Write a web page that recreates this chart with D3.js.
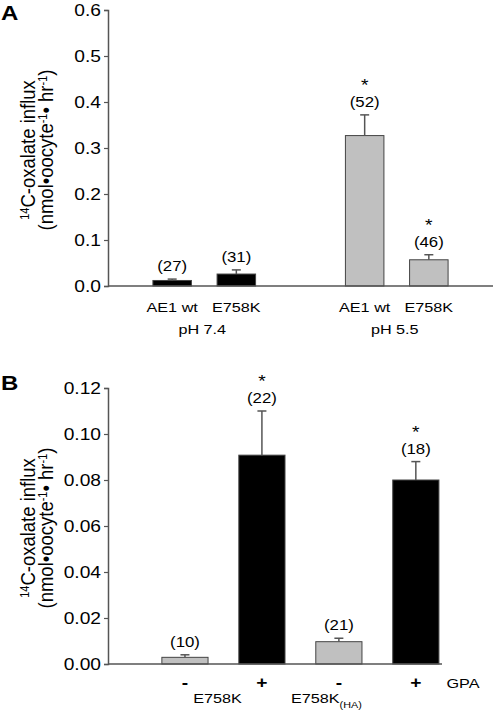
<!DOCTYPE html>
<html>
<head>
<meta charset="utf-8">
<script src="https://cdn.jsdelivr.net/npm/d3@7"></script>
<style>
  html, body { margin: 0; padding: 0; background: #fff; }
  svg { display: block; }
  text { font-family: "Liberation Sans", Arial, sans-serif; fill: #000; }
</style>
</head>
<body>
<script>
// ---------- Panel A data ----------
const aGroups = ["pH 7.4", "pH 5.5"];
const aCategories = ["AE1 wt", "E758K", "AE1 wt", "E758K"];
const aGroupOf = [0, 0, 1, 1];
const aValues = [0.012, 0.026, 0.327, 0.057];
const aErrors = [0.003, 0.009, 0.045, 0.011];
const aN = ["(27)", "(31)", "(52)", "(46)"];
const aSig = [false, false, true, true];
const aTicks = [0.0, 0.1, 0.2, 0.3, 0.4, 0.5, 0.6];

// ---------- Panel B data ----------
const bGroups = ["E758K", "E758K"];
const bGroupSub = ["", "(HA)"];
const bCategories = ["-", "+", "-", "+"];
const bGroupOf = [0, 0, 1, 1];
const bValues = [0.0029, 0.0908, 0.0097, 0.0800];
const bErrors = [0.0011, 0.0192, 0.0015, 0.0080];
const bN = ["(10)", "(22)", "(21)", "(18)"];
const bSig = [false, true, false, true];
const bTicks = [0.00, 0.02, 0.04, 0.06, 0.08, 0.10, 0.12];
const bExtraLabel = "GPA";

const W = 494, H = 716;
const SX = 1.2; // horizontal stretch of the original image text
const GRAY = "#c0c0c0", BLACK = "#000000", LINE = "#555555";

const svg = d3.select("body").append("svg").attr("width", W).attr("height", H);

function stext(g, x, y, str, size, anchor, weight) {
  const t = g.append("text")
    .attr("transform", `translate(${x},${y}) scale(${SX},1)`)
    .attr("text-anchor", anchor || "middle")
    .style("font-size", size + "px");
  if (weight) t.style("font-weight", weight);
  t.text(str);
  return t;
}

function yTitle(g, cx, cy) {
  const mk = (bx) => g.append("text")
    .attr("transform", `translate(${bx},${cy}) scale(1.1,1) rotate(-90)`)
    .attr("text-anchor", "middle")
    .style("font-size", "18.5px");
  const t1 = mk(cx);
  t1.append("tspan").attr("baseline-shift", "super").style("font-size", "11px").text("14");
  t1.append("tspan").text("C-oxalate influx");
  const t2 = mk(cx + 18);
  t2.append("tspan").text("(nmol\u2022oocyte");
  t2.append("tspan").attr("baseline-shift", "super").style("font-size", "11px").text("-1");
  t2.append("tspan").text("\u2022 hr");
  t2.append("tspan").attr("baseline-shift", "super").style("font-size", "11px").text("-1");
  t2.append("tspan").text(")");
}

function drawPanel(opts) {
  const g = svg.append("g");
  const x = d3.scaleLinear().domain(opts.xDomain).range([108, opts.xRight]);
  const y = d3.scaleLinear().domain(opts.yDomain).range([opts.yBottom, opts.yTop]);
  const bw = (x(1) - x(0)) * 0.6;

  // bars
  g.selectAll("rect.bar").data(opts.values).join("rect")
    .attr("class", "bar")
    .attr("x", (d, i) => x(opts.pos[i]) - bw / 2)
    .attr("y", d => y(d))
    .attr("width", bw)
    .attr("height", d => y(0) - y(d))
    .attr("fill", (d, i) => opts.fill[i])
    .attr("stroke", "#444")
    .attr("stroke-width", 1);

  // error bars (upper only)
  opts.values.forEach((v, i) => {
    const cx = x(opts.pos[i]);
    g.append("line").attr("x1", cx).attr("x2", cx)
      .attr("y1", y(v)).attr("y2", y(v + opts.errors[i]))
      .attr("stroke", LINE).attr("stroke-width", 1.5);
    g.append("line").attr("x1", cx - 4.5).attr("x2", cx + 4.5)
      .attr("y1", y(v + opts.errors[i])).attr("y2", y(v + opts.errors[i]))
      .attr("stroke", LINE).attr("stroke-width", 1.5);
    const ty = y(v + opts.errors[i]) - 8;
    stext(g, cx, ty, opts.n[i], 14);
    if (opts.sig[i]) stext(g, cx, ty - 16, "*", 16);
  });

  // y axis
  const ya = d3.axisLeft(y).tickValues(opts.ticks).tickSize(4).tickPadding(5)
    .tickFormat(opts.fmt);
  const ax = g.append("g").attr("transform", "translate(108,0)").call(ya);
  ax.select(".domain").attr("stroke", LINE).attr("stroke-width", 1.5);
  ax.selectAll(".tick line").attr("stroke", LINE).attr("stroke-width", 1.2);
  ax.selectAll(".tick text").remove();
  opts.ticks.forEach(t => stext(g, 101, y(t) + 5.5, opts.fmt(t), 16, "end"));

  // x axis line
  g.append("line").attr("x1", 108).attr("x2", opts.xRight)
    .attr("y1", y(0)).attr("y2", y(0))
    .attr("stroke", LINE).attr("stroke-width", 1.5);

  return { g, x, y };
}

// ---------- Panel A ----------
const aPos = aCategories.map((c, i) => aGroupOf[i] * 3 + (i % 2) + 1);
const A = drawPanel({
  xDomain: [0, 6], xRight: 493,
  yDomain: [0, 0.6], yBottom: 286, yTop: 10,
  values: aValues, errors: aErrors, n: aN, sig: aSig, ticks: aTicks,
  pos: aPos, fill: aGroupOf.map(gi => gi === 0 ? BLACK : GRAY),
  fmt: d3.format(".1f")
});
aCategories.forEach((c, i) => stext(A.g, A.x(aPos[i]), 312, c, 13.5));
aGroups.forEach((gname, gi) => {
  const ps = aPos.filter((p, i) => aGroupOf[i] === gi);
  stext(A.g, A.x(d3.mean(ps)) - 2, 334, gname, 13.5);
});
stext(A.g, 1, 20, "A", 20, "start", "bold");
yTitle(A.g, 35, 150);

// ---------- Panel B ----------
const bPos = bCategories.map((c, i) => i + 1);
const B = drawPanel({
  xDomain: [0, 4.34], xRight: 442,
  yDomain: [0, 0.12], yBottom: 664, yTop: 388,
  values: bValues, errors: bErrors, n: bN, sig: bSig, ticks: bTicks,
  pos: bPos, fill: bCategories.map(c => c === "+" ? BLACK : GRAY),
  fmt: d3.format(".2f")
});
bCategories.forEach((c, i) => stext(B.g, B.x(bPos[i]), 688, c, 16, "middle", "bold"));
stext(B.g, 463, 688, bExtraLabel, 13.5);
// group labels
{
  const ps0 = bPos.filter((p, i) => bGroupOf[i] === 0);
  stext(B.g, B.x(d3.mean(ps0)) - 6, 703, bGroups[0], 13.5);
  const ps1 = bPos.filter((p, i) => bGroupOf[i] === 1);
  const t = B.g.append("text")
    .attr("transform", `translate(${B.x(d3.mean(ps1)) - 51},703) scale(${SX},1)`)
    .attr("text-anchor", "middle").style("font-size", "13.5px");
  t.append("tspan").text(bGroups[1]);
  t.append("tspan").attr("baseline-shift", "sub").style("font-size", "9px").text(bGroupSub[1]);
}
stext(B.g, 1, 390, "B", 20, "start", "bold");
yTitle(B.g, 35, 528);
</script>
</body>
</html>
